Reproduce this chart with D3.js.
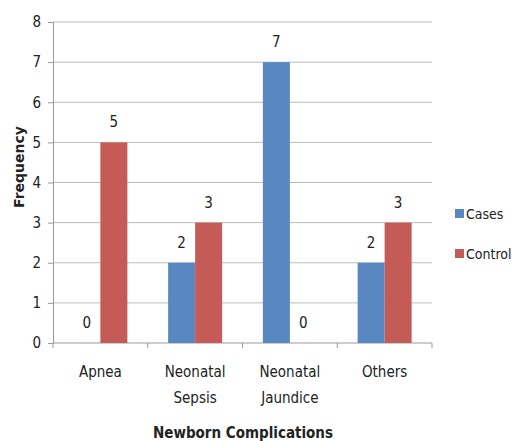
<!DOCTYPE html>
<html>
<head>
<meta charset="utf-8">
<script src="https://cdn.jsdelivr.net/npm/d3@7"></script>
<style>
  html, body { margin: 0; padding: 0; background: #fff; }
  svg { display: block; }
  text { font-family: "Liberation Sans Narrow", "DejaVu Sans Condensed", "Liberation Sans", sans-serif; fill: #222; }
</style>
</head>
<body>
<svg id="chart" width="514" height="441"></svg>
<script>
// Newborn complications by group
const categories = [["Apnea"], ["Neonatal", "Sepsis"], ["Neonatal", "Jaundice"], ["Others"]];
const seriesNames = ["Cases", "Control"];
const casesValues = [0, 2, 7, 2];
const controlValues = [5, 3, 0, 3];
const yTicks = [0, 1, 2, 3, 4, 5, 6, 7, 8];
const colors = ["#5887C1", "#C55B57"];

const svg = d3.select("#chart");
const plotLeft = 53, plotRight = 432, plotTop = 22, plotBottom = 343;

const x = d3.scaleBand()
  .domain(categories.map((d, i) => i))
  .range([plotLeft, plotRight])
  .paddingInner(0).paddingOuter(0);

const inner = d3.scaleBand()
  .domain([0, 1])
  .range([0, x.bandwidth()])
  .paddingInner(0)
  .paddingOuter(0.755);

const y = d3.scaleLinear().domain([0, 8]).range([plotBottom, plotTop]);

// horizontal gridlines
svg.append("g")
  .selectAll("line")
  .data(yTicks.filter(t => t > 0))
  .join("line")
  .attr("x1", plotLeft).attr("x2", plotRight)
  .attr("y1", d => y(d)).attr("y2", d => y(d))
  .attr("stroke", "#bdbdbd").attr("stroke-width", 1);

// y axis
const yAxis = svg.append("g")
  .attr("transform", `translate(${plotLeft},0)`)
  .call(d3.axisLeft(y).tickValues(yTicks).tickSize(5).tickPadding(7).tickFormat(d3.format("d")));
yAxis.select(".domain").attr("stroke", "#9a9a9a");
yAxis.selectAll(".tick line").attr("stroke", "#9a9a9a");
yAxis.selectAll(".tick text").style("font-size", "15px").attr("fill", "#222");

// x axis
const xAxis = svg.append("g")
  .attr("transform", `translate(0,${plotBottom})`);
xAxis.append("line")
  .attr("x1", plotLeft).attr("x2", plotRight)
  .attr("stroke", "#9a9a9a");
xAxis.selectAll("line.tk")
  .data(d3.range(categories.length + 1))
  .join("line")
  .attr("class", "tk")
  .attr("x1", d => plotLeft + d * x.bandwidth())
  .attr("x2", d => plotLeft + d * x.bandwidth())
  .attr("y1", 0).attr("y2", 5)
  .attr("stroke", "#9a9a9a");

const catLabels = xAxis.selectAll("text.cat")
  .data(categories)
  .join("text")
  .attr("class", "cat")
  .attr("text-anchor", "middle")
  .attr("x", (d, i) => x(i) + x.bandwidth() / 2)
  .attr("y", 34)
  .style("font-size", "15px");
catLabels.selectAll("tspan")
  .data(d => d)
  .join("tspan")
  .attr("x", function () { return this.parentNode.getAttribute("x"); })
  .attr("dy", (d, i) => i === 0 ? 0 : 26)
  .text(d => d);

// bars
const series = [casesValues, controlValues];
series.forEach((vals, s) => {
  const g = svg.append("g");
  g.selectAll("rect")
    .data(vals)
    .join("rect")
    .attr("x", (d, i) => x(i) + inner(s))
    .attr("width", inner.bandwidth())
    .attr("y", d => y(d))
    .attr("height", d => y(0) - y(d))
    .attr("fill", colors[s]);
  g.selectAll("text")
    .data(vals)
    .join("text")
    .attr("text-anchor", "middle")
    .attr("x", (d, i) => x(i) + inner(s) + inner.bandwidth() / 2)
    .attr("y", d => y(d) - 15)
    .style("font-size", "15px")
    .text(d => d);
});

// axis titles
svg.append("text")
  .attr("transform", "translate(24,167) rotate(-90)")
  .attr("text-anchor", "middle")
  .style("font-family", "'DejaVu Sans', sans-serif")
  .style("font-weight", "bold")
  .style("font-size", "14px")
  .attr("fill", "#111")
  .text("Frequency");

svg.append("text")
  .attr("x", 243).attr("y", 438)
  .attr("text-anchor", "middle")
  .style("font-weight", "bold")
  .style("font-size", "15px")
  .attr("fill", "#111")
  .text("Newborn Complications");

// legend
const legend = svg.append("g");
seriesNames.forEach((name, i) => {
  const ly = 214 + i * 40;
  legend.append("rect")
    .attr("x", 455).attr("y", ly - 5)
    .attr("width", 9).attr("height", 9)
    .attr("fill", colors[i]);
  legend.append("text")
    .attr("x", 466).attr("y", ly + 5)
    .style("font-size", "14px")
    .text(name);
});
</script>
</body>
</html>
